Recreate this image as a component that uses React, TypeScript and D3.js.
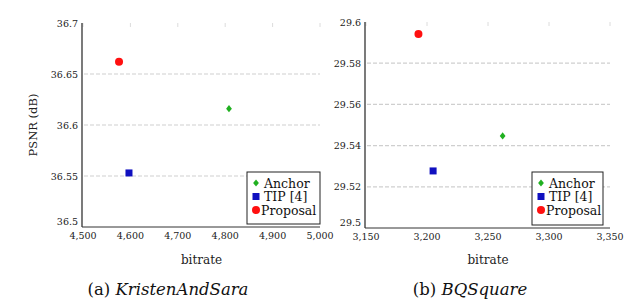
import React from "react";
import * as d3 from "d3";

// panel (a) KristenAndSara
const leftXTicks = [4500, 4600, 4700, 4800, 4900, 5000];
const leftYTicks = [36.5, 36.55, 36.6, 36.65, 36.7];
const leftAnchor = [{ x: 4808, y: 36.616 }];
const leftTip = [{ x: 4597, y: 36.553 }];
const leftProposal = [{ x: 4576, y: 36.662 }];

// panel (b) BQSquare
const rightXTicks = [3150, 3200, 3250, 3300, 3350];
const rightYTicks = [29.5, 29.52, 29.54, 29.56, 29.58, 29.6];
const rightAnchor = [{ x: 3262, y: 29.5447 }];
const rightTip = [{ x: 3205, y: 29.5277 }];
const rightProposal = [{ x: 3193, y: 29.5942 }];

const legendNames = ["Anchor", "TIP [4]", "Proposal"];

const RED = "#ff1010";
const GREEN = "#20b020";
const BLUE = "#1010c0";
const FONT = "'DejaVu Serif', serif";

const fmtX = d3.format(",");

function Marker({ kind, cx, cy }) {
  if (kind === 0) {
    const s = 3.6;
    return (
      <path
        d={`M${cx},${cy - s} L${cx + s * 0.8},${cy} L${cx},${cy + s} L${cx - s * 0.8},${cy} Z`}
        fill={GREEN}
      />
    );
  }
  if (kind === 1) {
    return <rect x={cx - 3.5} y={cy - 3.5} width={7} height={7} fill={BLUE} />;
  }
  return <circle cx={cx} cy={cy} r={4} fill={RED} />;
}

function Panel({ xDomain, xRange, yDomain, yRange, xTicks, yTicks, yFmt, series, legendX, legendW, caption, showYLabel }) {
  const x = d3.scaleLinear().domain(xDomain).range(xRange);
  const y = d3.scaleLinear().domain(yDomain).range(yRange);
  const x0 = xRange[0] - 1;
  const yb = yRange[0];

  return (
    <g style={{ fontFamily: FONT }}>
      {/* grid */}
      {yTicks.slice(1, -1).map(t => (
        <line key={"g" + t} x1={x0 + 2} x2={xRange[1]} y1={y(t)} y2={y(t)}
          stroke="#cfcfcf" strokeWidth={1.2} strokeDasharray="4,2" />
      ))}
      {/* faint ticks on the top */}
      {xTicks.map(t => (
        <line key={"tt" + t} x1={x(t)} x2={x(t)} y1={yRange[1]} y2={yRange[1] + 4}
          stroke="#dcdcdc" strokeWidth={1} />
      ))}
      {/* axes */}
      <line x1={x0} x2={x0} y1={yRange[1]} y2={yb} stroke="#333" strokeWidth={1.3} />
      <line x1={x0} x2={xRange[1]} y1={yb} y2={yb} stroke="#333" strokeWidth={1} />
      {yTicks.map(t => (
        <text key={"y" + t} x={x0 - 4} y={y(t) + (t === yDomain[0] ? -2 : 3.5)} textAnchor="end"
          fontSize={9.5} fill="#222">{yFmt(t)}</text>
      ))}
      {xTicks.map(t => (
        <text key={"x" + t} x={x(t)} y={yb + 12} textAnchor="middle" fontSize={9.5} fill="#222">
          {fmtX(t)}
        </text>
      ))}
      {/* points */}
      {series.map((s, i) =>
        s.map((d, j) => <Marker key={i + "-" + j} kind={i} cx={x(d.x)} cy={y(d.y)} />)
      )}
      {/* legend */}
      <rect x={legendX} y={172} width={legendW} height={yb - 172 - 3} fill="white" stroke="#222" strokeWidth={1} />
      {legendNames.map((n, i) => (
        <g key={n}>
          <Marker kind={i} cx={legendX + 9} cy={183 + i * 13.5} />
          <text x={legendX + (i === 2 ? 14 : 17)} y={187.5 + i * 13.5} fontSize={12.5} fill="#111">{n}</text>
        </g>
      ))}
      {/* labels */}
      <text x={(xRange[0] + xRange[1]) / 2} y={264} textAnchor="middle" fontSize={12} fill="#222">bitrate</text>
      {showYLabel && (
        <text transform={`translate(37,${(yRange[0] + yRange[1]) / 2}) rotate(-90)`} textAnchor="middle"
          fontSize={11.5} fill="#222">PSNR (dB)</text>
      )}
      <text x={caption.x} y={295} textAnchor="middle" fontSize={16.5} fill="#111">
        {caption.tag} <tspan fontStyle="italic">{caption.name}</tspan>
      </text>
    </g>
  );
}

export default function App() {
  return (
    <svg width={640} height={300} style={{ position: "absolute", left: 0, top: 0, background: "white" }}>
      <rect width={640} height={300} fill="white" />
      <Panel
        xDomain={[4500, 5000]} xRange={[83, 320]}
        yDomain={[36.5, 36.7]} yRange={[227, 23]}
        xTicks={leftXTicks} yTicks={leftYTicks} yFmt={d3.format("")}
        series={[leftAnchor, leftTip, leftProposal]}
        legendX={247} legendW={73}
        caption={{ x: 168, tag: "(a)", name: "KristenAndSara" }}
        showYLabel={true}
      />
      <Panel
        xDomain={[3150, 3350]} xRange={[366, 610]}
        yDomain={[29.5, 29.6]} yRange={[228, 22]}
        xTicks={rightXTicks} yTicks={rightYTicks} yFmt={d3.format("")}
        series={[rightAnchor, rightTip, rightProposal]}
        legendX={532} legendW={71}
        caption={{ x: 470, tag: "(b)", name: "BQSquare" }}
        showYLabel={false}
      />
    </svg>
  );
}
